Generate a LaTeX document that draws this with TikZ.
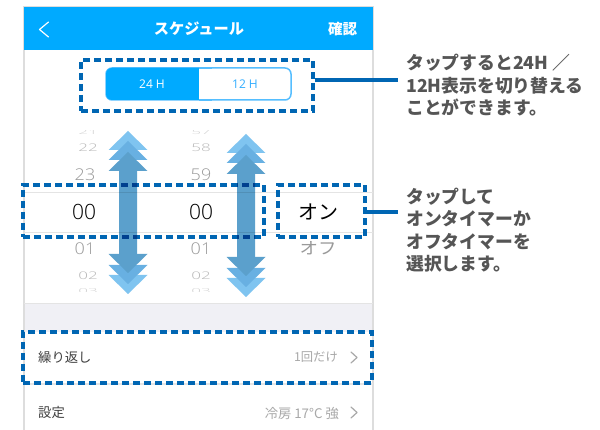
\documentclass[tikz,border=0pt]{standalone}
\usepackage{fontspec}
\setmainfont{Noto Sans CJK JP}
\newfontfamily\numfont{Open Sans Light}[BoldFont={Open Sans}]
\definecolor{appblue}{HTML}{00AAFF}
\definecolor{rimblue}{HTML}{55BEFF}
\definecolor{labelblue}{HTML}{33AEFF}
\definecolor{markblue}{HTML}{0066B3}
\definecolor{headone}{HTML}{7FC4F0}
\definecolor{headtwo}{HTML}{68B0E2}
\definecolor{headthree}{HTML}{5BA0CC}
\definecolor{framegray}{HTML}{DDDDDD}
\definecolor{linegray}{HTML}{E4E4E4}
\definecolor{bandgray}{HTML}{F0F0F5}
\definecolor{notegray}{HTML}{555555}
\definecolor{pickgray}{HTML}{999999}
\definecolor{rowgray}{HTML}{A8A8A8}
\tikzset{
  markbox/.style={draw=markblue,line width=3.5pt,dash pattern=on 7pt off 4pt,inner sep=0pt},
  lead/.style={draw=markblue,line width=3.5pt},
  note/.style={anchor=north west,align=left,inner sep=0pt,text=notegray,font=\fontsize{17.8}{22.5}\selectfont\bfseries},
  pick/.style={text=pickgray,inner sep=0pt,transform shape,yscale=.9,font=\fontsize{18}{18}\numfont},
  pickfar/.style={text=pickgray!70,inner sep=0pt,transform shape,yscale=.62,font=\fontsize{17}{17}\numfont},
  pickedge/.style={text=pickgray!45,inner sep=0pt,transform shape,yscale=.4,font=\fontsize{17}{17}\numfont},
  rowtext/.style={inner sep=0pt,font=\fontsize{13.3}{14}\selectfont},
  chev/.style={draw=#1,line width=1.2pt,line cap=round,line join=round}
}
\begin{document}
\begin{tikzpicture}[x=1pt,y=-1pt]
  \useasboundingbox (0,0) rectangle (600,430);
  % phone frame
  \fill[white] (0,0) rectangle (600,430);
  \fill[bandgray] (24,304) rectangle (373,332);
  \draw[framegray,line width=2pt] (24,430) -- (24,7) -- (373,7) -- (373,430);
  \fill[appblue] (24,7) rectangle (373,50);
  \draw[linegray,line width=1pt] (24,304) -- (373,304);
  \draw[linegray] (24,192) -- (373,192);
  \draw[linegray] (24,232) -- (373,232);
  \draw[linegray,line width=1.5pt] (24,384) -- (373,384);
  % header
  \draw[chev=white] (48.5,22) -- (39.5,29.5) -- (48.5,37);
  \node (title) [inner sep=0pt,text=white,font=\fontsize{15.2}{16}\selectfont\bfseries] at (199,29) {スケジュール};
  \node (okbtn) [inner sep=0pt,text=white,font=\fontsize{14.5}{15}\selectfont\bfseries] at (342.5,29) {確認};
  % toggle
  \draw[rimblue,line width=1.5pt,rounded corners=6pt] (106,68) rectangle (291,100);
  \fill[appblue,rounded corners=6pt] (106,68) rectangle (210,100);
  \fill[white] (198.5,68.7) rectangle (212,99.3);
  \draw[rimblue,line width=1.5pt] (198.5,68) -- (212,68) (198.5,100) -- (212,100);
  \node (h24) [inner sep=0pt,text=white,font=\fontsize{12}{12}\numfont\bfseries] at (152,84) {24 H};
  \node (h12) [inner sep=0pt,text=labelblue,font=\fontsize{12}{12}\numfont\bfseries] at (245,84) {12 H};
  % picker
  \foreach \name/\x/\y/\txt in {b/85/175/23,c/85/249/01,f/201/175/59,g/201/249/01}
    \node (p\name) [pick] at (\x,\y) {\txt};
  \foreach \name/\x/\y/\txt in {a/88/148/22,d/88/276/02,e/201/148/58,h/201/276/02}
    \node (p\name) [pickfar] at (\x,\y) {\txt};
  \begin{scope}
    \clip (60,131) rectangle (230,135.5);
    \node (hourtop) [pickedge] at (88,132) {21};
    \node (mintop) [pickedge] at (201,132) {57};
  \end{scope}
  \begin{scope}
    \clip (60,287.5) rectangle (230,292);
    \node (hourend) [pickedge] at (88,291) {03};
    \node (minend) [pickedge] at (201,291) {03};
  \end{scope}
  \node (hour) [inner sep=0pt,font=\fontsize{21}{21}\numfont] at (84,212) {00};
  \node (minute) [inner sep=0pt,font=\fontsize{21}{21}\numfont] at (201,212) {00};
  \node (on) [inner sep=0pt,font=\fontsize{20}{20}\selectfont] at (318.5,212) {オン};
  \node (off) [pick,font=\fontsize{18.5}{18}\selectfont] at (318,248) {オフ};
  % rows
  \node (repeat) [rowtext,anchor=west,text=black!75] at (38,357) {繰り返し};
  \node (once) [rowtext,anchor=east,text=rowgray,font=\fontsize{12.3}{14}\selectfont] at (338,357) {1回だけ};
  \node (setting) [rowtext,anchor=west,text=black!75] at (38,412) {設定};
  \node (mode) [rowtext,anchor=east,text=rowgray] at (339,413) {冷房 17°C 強};
  \draw[chev=rowgray] (351,352) -- (357,357.5) -- (351,363);
  \draw[chev=rowgray] (351,407) -- (357,412.5) -- (351,418);
  % marks
  \node (box1) [markbox,minimum width=232pt,minimum height=51pt] at (197,85.5) {};
  \node (box2) [markbox,minimum width=241pt,minimum height=52pt] at (143.5,211) {};
  \node (box3) [markbox,minimum width=87pt,minimum height=52pt] at (321.5,211) {};
  \node (box4) [markbox,minimum width=349pt,minimum height=51pt] at (197.5,357.5) {};
  % arrows
  \begin{scope}[blend mode=multiply,transparency group]
    \foreach \x/\y/\yy in {128/131/294,246/134/297} {
      \foreach \d/\col in {0/headone,10/headtwo,21/headthree} {
        \fill[\col] (\x,\y+\d) -- (\x+19.5,\y+\d+19) -- (\x-19.5,\y+\d+19) -- cycle;
        \fill[\col] (\x,\yy-\d) -- (\x+19.5,\yy-\d-19) -- (\x-19.5,\yy-\d-19) -- cycle;
      }
      \fill[headthree] (\x-9,\y+37) rectangle (\x+9,\yy-37);
    }
  \end{scope}
  % notes
  \node (note1) [note] at (406,54) {タップすると24H ／\\12H表示を切り替える\\ことができます。};
  \node (note2) [note] at (406,187.5) {タップして\\オンタイマーか\\オフタイマーを\\選択します。};
  \coordinate (tip1) at (398,80);
  \coordinate (tip2) at (398,212);
  \draw[lead] (tip1 -| box1.east) -- (tip1);
  \draw[lead] (tip2 -| box3.east) -- (tip2);
\end{tikzpicture}
\end{document}
